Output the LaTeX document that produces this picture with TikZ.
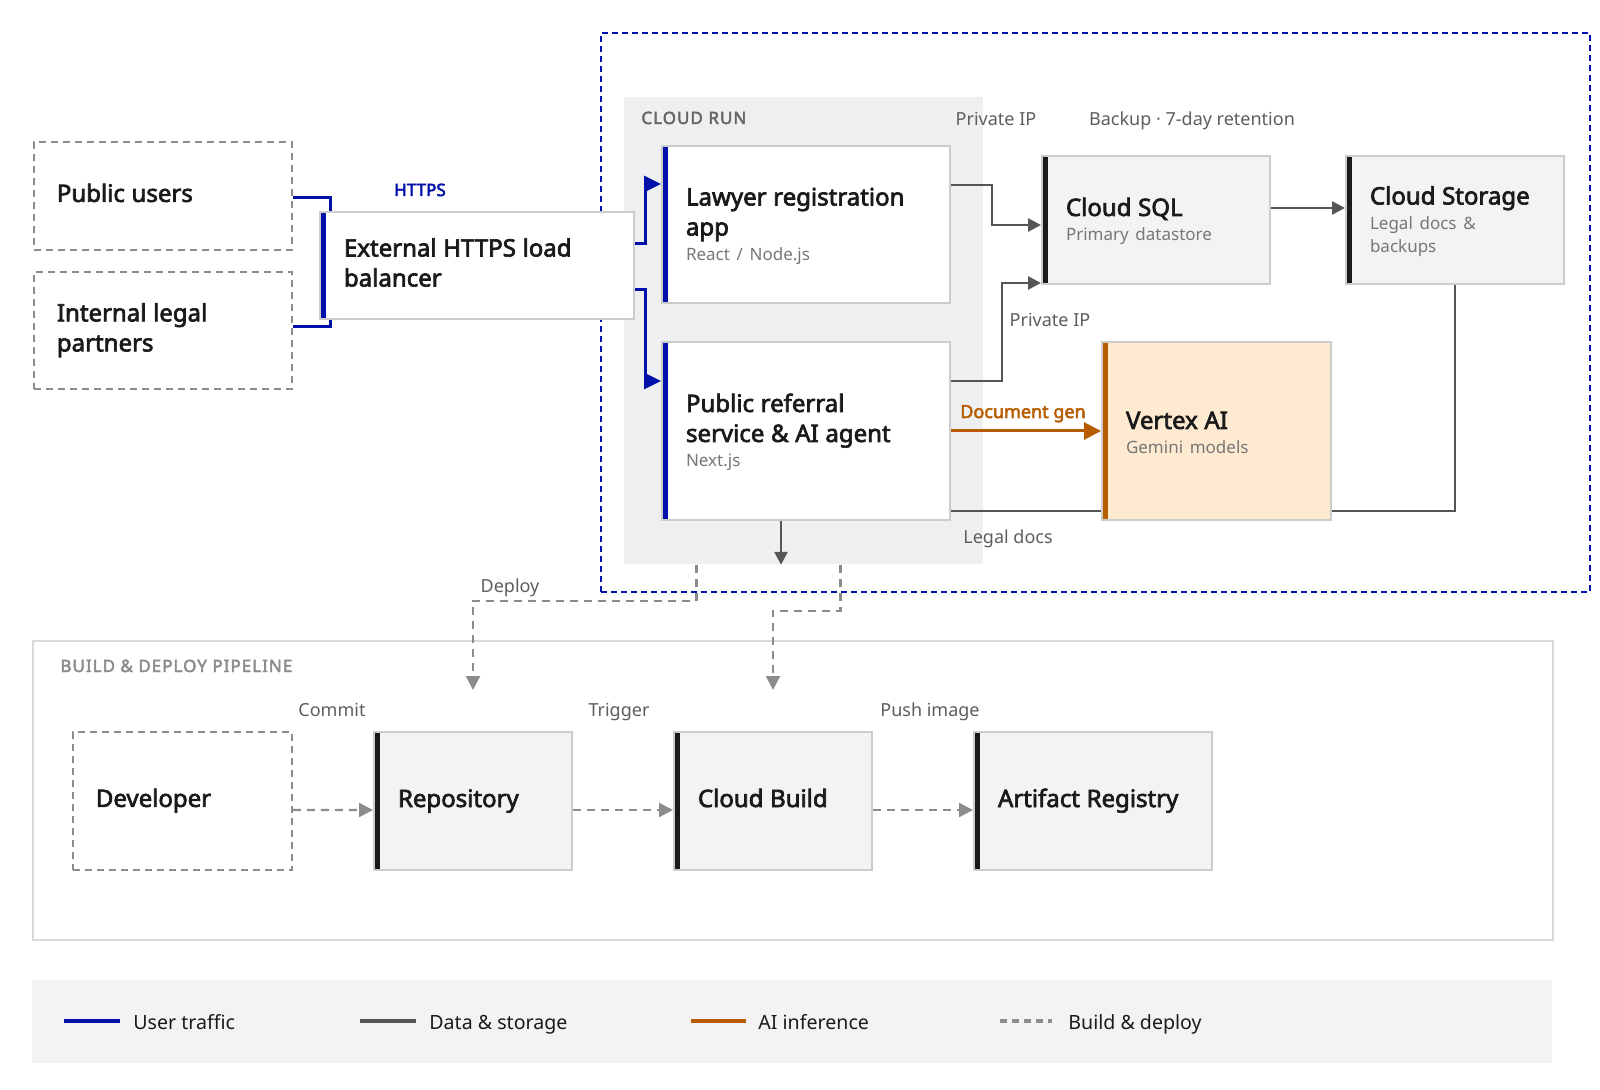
\documentclass[tikz,border=0pt]{standalone}
\usepackage{fontspec}
\setmainfont{Noto Sans}[BoldFont={Noto Sans}, BoldFeatures={FakeBold=2.8}]
\usetikzlibrary{arrows.meta,calc}
\definecolor{ublue}{HTML}{0011AA}
\definecolor{dgray}{HTML}{555555}
\definecolor{aorange}{HTML}{B85C00}
\definecolor{bgray}{HTML}{8C8C8C}
\definecolor{bordc}{HTML}{CCCCCC}
\definecolor{boxfill}{HTML}{F3F3F3}
\definecolor{crfill}{HTML}{EEEFF1}
\definecolor{vfill}{HTML}{FDEAD1}
\definecolor{tdark}{HTML}{1A1A1A}
\definecolor{subgray}{HTML}{777777}
\definecolor{lblgray}{HTML}{5E5E5E}
\definecolor{hdgray}{HTML}{666666}
\definecolor{pipeborder}{HTML}{D9D9D9}
\pgfdeclarelayer{bg}
\pgfdeclarelayer{conn}
\pgfsetlayers{bg,conn,main}
\newcommand\ttl[1]{{\fontsize{12}{15}\selectfont\bfseries\strut #1\strut\par}}
\newcommand\subt[1]{\vspace{1pt}{\fontsize{8.5}{11.5}\selectfont\mdseries\leavevmode\color{subgray}#1\par}}
\tikzset{
  cbox/.style={anchor=north west, align=left, inner xsep=12pt, inner ysep=0pt,
    draw=bordc, line width=1pt, fill=white, text=tdark},
  grayfill/.style={fill=boxfill},
  dbox/.style={anchor=north west, align=left, inner xsep=11.5pt, inner ysep=0pt,
    draw=bgray, line width=0.9pt, dash pattern=on 3.5pt off 2.5pt, fill=white, text=tdark},
  leftbar/.style={path picture={\draw[line width=6pt,#1]
    (path picture bounding box.north west) -- (path picture bounding box.south west);}},
  region/.style={anchor=north west, inner sep=0pt},
  ut/.style={draw=ublue, line width=1.5pt},
  utarrow/.style={ut, -{Triangle[length=8.5pt,width=8pt]}},
  ds/.style={draw=dgray, line width=1.3pt},
  dsarrow/.style={ds, -{Triangle[length=6.5pt,width=6.5pt]}},
  ai/.style={draw=aorange, line width=1.5pt, -{Triangle[length=8.5pt,width=8.5pt]}},
  bd/.style={draw=bgray, line width=1.1pt, dash pattern=on 4pt off 3pt,
    -{Triangle[length=7pt,width=7pt]}},
  lbl/.style={anchor=base, inner sep=0pt, font=\fontsize{9}{11}\selectfont, text=lblgray},
  legtext/.style={anchor=base west, inner sep=0pt, font=\fontsize{9.8}{11}\selectfont, text=tdark},
  hdr/.style={anchor=base west, inner sep=0pt, font=\fontsize{8.5}{10}\selectfont\bfseries\addfontfeature{LetterSpace=6}},
}
\begin{document}
\begin{tikzpicture}[x=0.5pt,y=-0.5pt]
\begin{pgfonlayer}{bg}
  \fill[white] (0,0) rectangle (1600,1090);
\end{pgfonlayer}
\useasboundingbox (0,0) rectangle (1600,1090);

% ---------- regions ----------
\begin{pgfonlayer}{bg}
  \node[region, draw=ublue, line width=1pt, dash pattern=on 3pt off 2pt,
        minimum width=494.5pt, minimum height=279.5pt] (gcp) at (600,32) {};
  \node[region, fill=crfill, minimum width=179.5pt, minimum height=233.5pt] (cloudrun) at (624,97) {};
  \node[region, draw=pipeborder, line width=1pt, fill=white,
        minimum width=760pt, minimum height=149.5pt] (pipe) at (32,640) {};
  \node[region, fill=boxfill, minimum width=760pt, minimum height=41.5pt] (legend) at (32,980) {};
\end{pgfonlayer}

\node[hdr, text=hdgray] (crlabel) at (641,124) {CLOUD RUN};
\node[hdr, text=bgray] (pipelabel) at (60,672) {BUILD \& DEPLOY PIPELINE};

% ---------- nodes ----------
\node[dbox, minimum width=129pt, minimum height=54pt, text width=106pt] (pu) at (33,141)
  {\ttl{Public users}};
\node[dbox, minimum width=129pt, minimum height=58.5pt, text width=106pt] (il) at (33,271)
  {\ttl{Internal legal\\partners}};
\node[cbox, leftbar=ublue, minimum width=157pt, minimum height=53.5pt, text width=133pt] (lb) at (319,211)
  {\ttl{\mbox{External HTTPS load}\\balancer}};
\node[cbox, leftbar=ublue, minimum width=144pt, minimum height=78.5pt, text width=120pt] (lawyer) at (661,145)
  {\ttl{\mbox{Lawyer registration}\\app}\subt{React / Node.js}};
\node[cbox, leftbar=ublue, minimum width=144pt, minimum height=89pt, text width=120pt] (referral) at (661,341)
  {\ttl{Public referral\\\mbox{service \& AI agent}}\subt{Next.js}};
\node[cbox, grayfill, leftbar=tdark, minimum width=114pt, minimum height=64pt, text width=90pt] (sql) at (1041,155)
  {\ttl{Cloud SQL}\subt{Primary datastore}};
\node[cbox, grayfill, leftbar=tdark, minimum width=109pt, minimum height=64pt, text width=85pt] (storage) at (1345,155)
  {\ttl{\mbox{Cloud Storage}}\subt{Legal docs \&\\backups}};
\node[cbox, fill=vfill, leftbar=aorange, minimum width=114.5pt, minimum height=89pt, text width=90.5pt] (vertex) at (1101,341)
  {\ttl{Vertex AI}\subt{Gemini models}};

\node[dbox, minimum width=109.5pt, minimum height=69pt, text width=86.5pt] (dev) at (72,731)
  {\ttl{Developer}};
\node[cbox, grayfill, leftbar=tdark, minimum width=99pt, minimum height=69pt, text width=75pt] (repo) at (373,731)
  {\ttl{Repository}};
\node[cbox, grayfill, leftbar=tdark, minimum width=99pt, minimum height=69pt, text width=75pt] (cb) at (673,731)
  {\ttl{Cloud Build}};
\node[cbox, grayfill, leftbar=tdark, minimum width=119pt, minimum height=69pt, text width=95pt] (ar) at (973,731)
  {\ttl{\mbox{Artifact Registry}}};

% ---------- labels ----------
\node[anchor=base, inner sep=0pt, font=\fontsize{8.5}{10}\selectfont\bfseries, text=ublue] (https) at (420,196) {HTTPS};
\node[anchor=base, inner sep=0pt, font=\fontsize{9}{11}\selectfont\bfseries, text=aorange] (docgen) at (1023,418) {Document gen};
\node[lbl] (pip1) at (996,126) {Private IP};
\node[lbl] (backup) at (1192,126) {Backup · 7-day retention};
\node[lbl] (pip2) at (1050,327) {Private IP};
\node[lbl] (legaldocs) at (1008,544) {Legal docs};
\node[lbl] (deploy) at (510,592) {Deploy};
\node[lbl] (commit) at (332,716) {Commit};
\node[lbl] (trigger) at (619,716) {Trigger};
\node[lbl] (push) at (930,716) {Push image};

% ---------- connectors ----------
\begin{pgfonlayer}{conn}
  \draw[ut] ([yshift=-1pt]pu.east) -| ([xshift=5.5pt]lb.north west);
  \draw[ut] ([yshift=2pt]il.east) -| ([xshift=5.5pt]lb.south west);
  \draw[utarrow] ([yshift=10.75pt]lb.east) -- ++(5pt,0) |- ([yshift=20.25pt]lawyer.west);
  \draw[utarrow] ([yshift=-12.25pt]lb.east) -- ++(5pt,0) |- ([yshift=25pt]referral.west);

  \draw[dsarrow] ([yshift=19.75pt]lawyer.east) -- ++(20.5pt,0) |- ([yshift=-2.5pt]sql.west);
  \draw[dsarrow] ([yshift=25pt]referral.east) -- ++(25.5pt,0) |- ([yshift=1pt]sql.south west);
  \draw[dsarrow] ([yshift=6pt]sql.east) -- ([yshift=6pt]storage.west);
  \draw[ds] ([yshift=-40pt]referral.east) -| (storage.south);
  \draw[dsarrow] ([xshift=-12.5pt]referral.south) -- ([xshift=-12.5pt]referral.south |- cloudrun.south);
  \draw[ai] (referral.east) -- (vertex.west);

  \draw[bd] ([xshift=-53.75pt]cloudrun.south) -- ++(0,-18pt) -| ([yshift=20.5pt]repo.north);
  \draw[bd] ([xshift=18.25pt]cloudrun.south) -- ++(0,-23pt) -| ([yshift=20.5pt]cb.north);

  \draw[bd] ([yshift=-4.5pt]dev.east) -- ([yshift=-4.5pt]repo.west);
  \draw[bd] ([yshift=-4.5pt]repo.east) -- ([yshift=-4.5pt]cb.west);
  \draw[bd] ([yshift=-4.5pt]cb.east) -- ([yshift=-4.5pt]ar.west);
\end{pgfonlayer}

% ---------- legend ----------
\draw[draw=ublue, line width=2pt] (64,1021) -- (120,1021);
\node[legtext] (lg1) at (133,1029) {User traffic};
\draw[draw=dgray, line width=2pt] (360,1021) -- (416,1021);
\node[legtext] (lg2) at (429,1029) {Data \& storage};
\draw[draw=aorange, line width=2pt] (691,1021) -- (746,1021);
\node[legtext] (lg3) at (758,1029) {AI inference};
\draw[draw=bgray, line width=2pt, dash pattern=on 3.5pt off 2.5pt] (1000,1021) -- (1052,1021);
\node[legtext] (lg4) at (1068,1029) {Build \& deploy};
\end{tikzpicture}
\end{document}
